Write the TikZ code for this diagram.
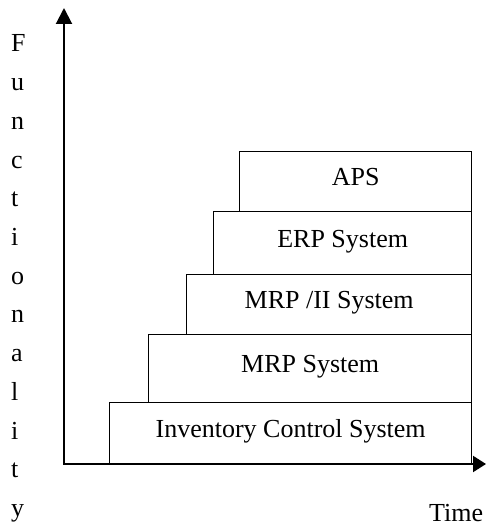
\documentclass[tikz,border=0pt]{standalone}
\usepackage{fontspec}
\setmainfont{Liberation Serif}
\usetikzlibrary{arrows.meta}
\begin{document}
\begin{tikzpicture}[x=1pt,y=-1pt,
  txt/.style={font=\fontsize{26}{30}\selectfont, inner sep=0pt},
  stage/.style={draw, line width=1.3pt, rectangle, inner sep=0pt, anchor=south west,
    font=\fontsize{26}{30}\selectfont, text height=18.2pt, text depth=9.1pt},
  axis/.style={line width=2pt, {Triangle[length=16pt,width=16pt]}-{Triangle[length=13pt,width=16pt]}}
]
\useasboundingbox (0,0) rectangle (486,526);
\coordinate (ytip) at (64,8);
\coordinate (orig) at (64,464);
\coordinate (xtip) at (486,464);
% boxes
\node[stage, minimum width=362pt, minimum height=61pt] (inv) at (109,464) {Inventory Control System};
\node[stage, minimum width=323pt, minimum height=68pt] (mrp) at (148,403) {MRP System};
\node[stage, minimum width=285pt, minimum height=60pt] (mrp2) at (186,335) {MRP /II System};
\node[stage, minimum width=258pt, minimum height=63pt] (erp) at (213,275) {ERP System};
\node[stage, minimum width=232pt, minimum height=60pt] (aps) at (239,212) {APS};
% axes
\draw[axis] (ytip) -- (orig) -- (xtip);
% labels
\foreach \c [count=\i] in {F,u,n,c,t,i,o,n,a,l,i,t,y}
  \node[txt, anchor=base west] (fl\i) at (11,{52+(\i-1)*38.7}) {\c};
\node[txt, anchor=base west] (time) at (429,521) {Time};
\end{tikzpicture}
\end{document}
